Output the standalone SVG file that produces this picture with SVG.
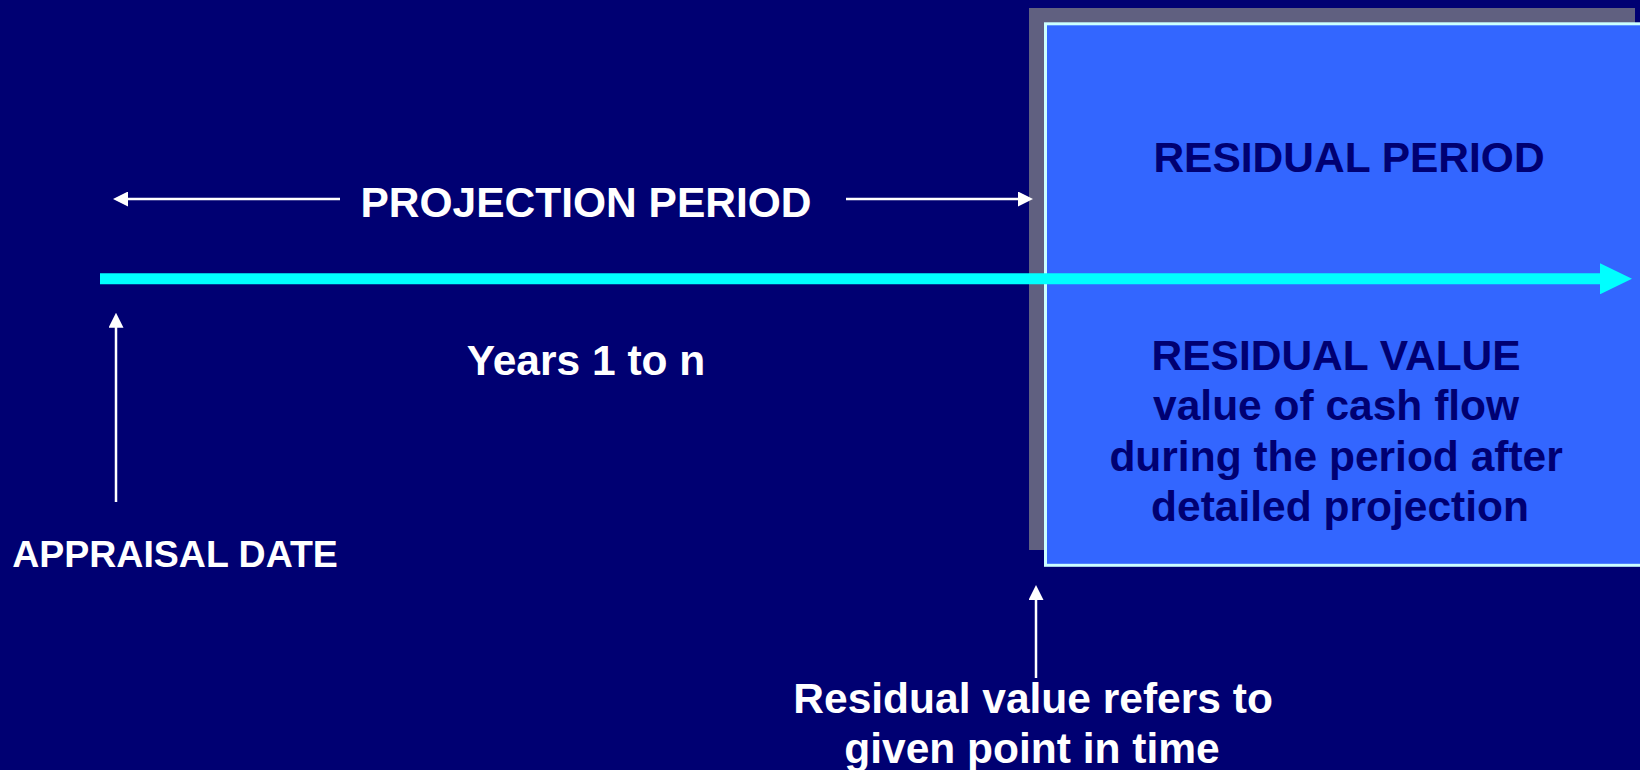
<svg xmlns="http://www.w3.org/2000/svg" width="1640" height="770" viewBox="0 0 1640 770">
  <style>
    .lbl { font-family: "Liberation Sans", Arial, sans-serif; font-weight: bold; text-anchor: middle; }
    .w { fill: #FFFFFF; }
    .n { fill: #000072; }
    .wl { stroke: #FFFFFF; stroke-width: 2.5; fill: none; }
  </style>
  <defs>
    <marker id="wh" viewBox="0 0 15 15" refX="5" refY="7.5" markerWidth="15" markerHeight="15" markerUnits="userSpaceOnUse" orient="auto">
      <path d="M0,0 L15,7.5 L0,15 z" fill="#FFFFFF"/>
    </marker>
    <marker id="cy" viewBox="0 0 32 31" refX="1" refY="15.5" markerWidth="32" markerHeight="31" markerUnits="userSpaceOnUse" orient="auto">
      <path d="M0,0 L32,15.5 L0,31 z" fill="#00FFFF"/>
    </marker>
  </defs>
  <rect x="0" y="0" width="1640" height="770" fill="#000072"/>

  <g id="residual-box">
    <rect x="1029" y="8" width="606" height="542" fill="#606080"/>
    <rect x="1045.5" y="23.8" width="620" height="541.5" fill="#3366FF" stroke="#CCFFFF" stroke-width="3"/>
    <text class="lbl n" x="1349" y="172" font-size="42.5">RESIDUAL PERIOD</text>
    <text class="lbl n" font-size="42.5">
      <tspan x="1342" y="370">RESIDUAL VALUE</tspan>
      <tspan x="1342" y="420">value of cash flow</tspan>
      <tspan x="1342" y="471">during the period after</tspan>
      <tspan x="1340" y="521">detailed projection</tspan>
    </text>
  </g>

  <g id="connectors">
    <line x1="100" y1="278.8" x2="1601" y2="278.8" stroke="#00FFFF" stroke-width="11" marker-end="url(#cy)"/>
    <line class="wl" x1="340" y1="199" x2="123" y2="199" marker-end="url(#wh)"/>
    <line class="wl" x1="846" y1="199" x2="1023" y2="199" marker-end="url(#wh)"/>
    <line class="wl" x1="116" y1="502" x2="116" y2="322.7" marker-end="url(#wh)"/>
    <line class="wl" x1="1036" y1="678" x2="1036" y2="595" marker-end="url(#wh)"/>
  </g>

  <g id="projection-period">
    <text class="lbl w" x="586" y="217" font-size="42.5">PROJECTION PERIOD</text>
  </g>
  <g id="years">
    <text class="lbl w" x="586" y="375" font-size="42.5">Years 1 to n</text>
  </g>
  <g id="appraisal-date">
    <text class="lbl w" x="175" y="567" font-size="37.5">APPRAISAL DATE</text>
  </g>
  <g id="residual-note">
    <text class="lbl w" font-size="42.5">
      <tspan x="1039" y="712.5">Residual value refers to</tspan>
      <tspan x="1032" y="763">given point in time</tspan>
    </text>
  </g>
</svg>
